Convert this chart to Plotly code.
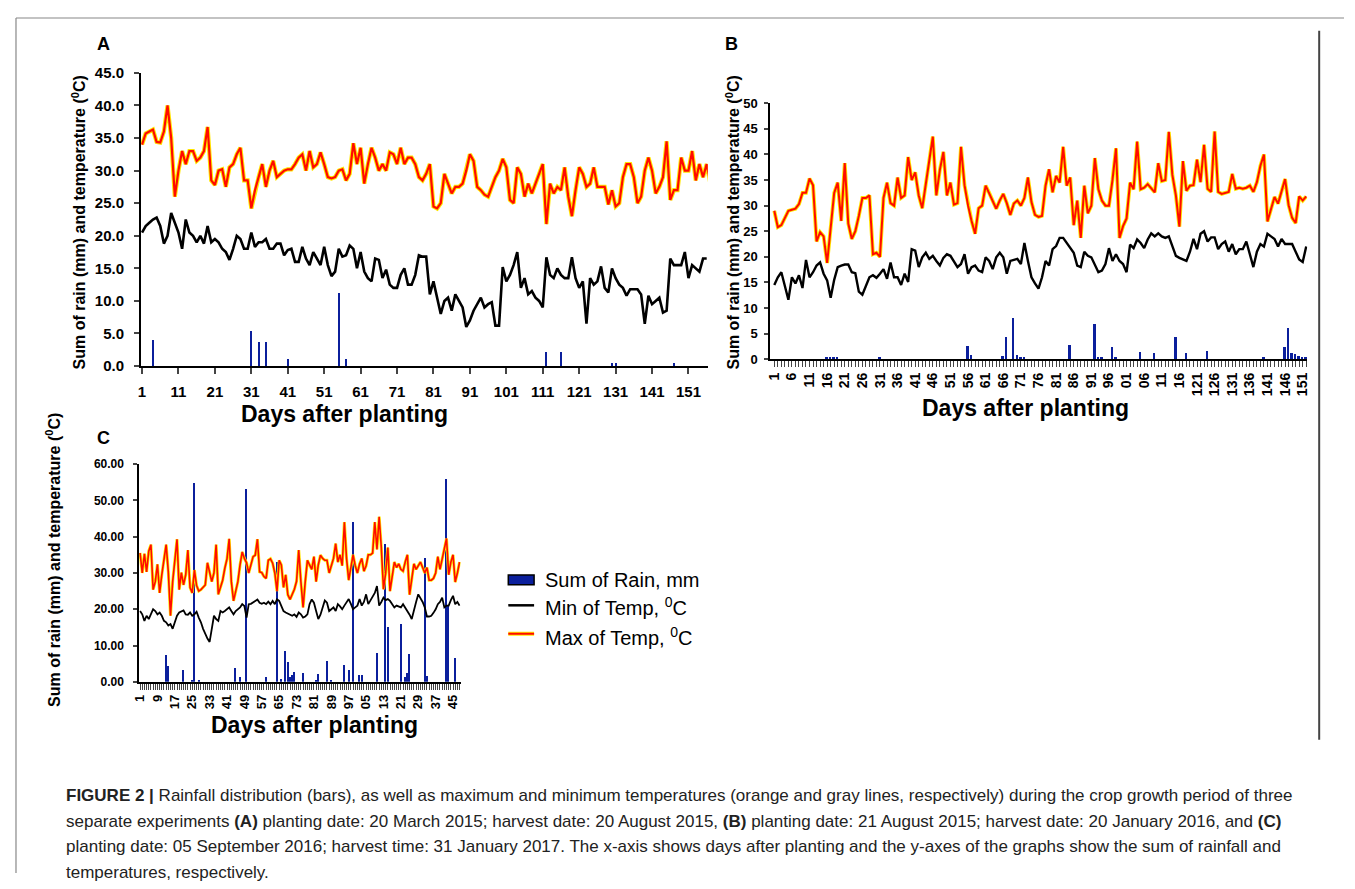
import plotly.graph_objects as go

W, H = 1355, 889
PAGE = 8                     # default body margin of the html page
FW, FH = W - 2 * PAGE, H - 2 * PAGE

# ---------------- data ----------------
# Panel A (planting 20 March 2015)
A_tmax = [34.0, 35.7, 36.0, 36.3, 34.4, 34.3, 36.0, 40.0, 35.0, 26.0, 30.0, 33.0, 31.0, 33.0, 33.0, 31.5,
          32.0, 33.0, 36.7, 28.5, 27.8, 30.0, 30.2, 27.5, 30.5, 31.0, 32.5, 33.5, 28.5, 28.5, 24.2, 27.0,
          29.0, 31.0, 27.5, 30.0, 31.5, 29.0, 29.5, 30.0, 30.2, 30.2, 31.0, 32.0, 32.5, 30.0, 33.0, 30.5,
          31.0, 32.8, 31.0, 29.0, 28.8, 29.0, 30.0, 30.2, 28.5, 29.5, 34.2, 31.0, 33.5, 28.0, 31.0, 33.5,
          32.0, 30.0, 31.0, 30.0, 32.8, 32.5, 31.0, 33.5, 31.0, 32.0, 32.0, 31.0, 29.0, 28.5, 29.5, 31.0,
          24.5, 24.2, 25.0, 29.5, 28.0, 26.5, 27.5, 27.5, 28.0, 30.0, 32.5, 31.5, 27.5, 27.0, 26.3, 26.0,
          27.5, 29.0, 30.0, 31.8, 30.5, 25.5, 25.0, 30.5, 29.5, 26.0, 28.0, 26.5, 28.0, 29.5, 31.0, 21.8,
          28.0, 26.5, 27.5, 27.0, 30.5, 26.0, 23.0, 27.0, 30.5, 29.5, 27.5, 28.0, 30.5, 27.5, 27.5, 27.5,
          24.8, 27.0, 24.5, 25.0, 29.0, 31.0, 31.0, 29.0, 25.0, 26.0, 30.0, 32.0, 30.0, 26.5, 27.5, 29.0,
          34.5, 25.5, 27.0, 27.0, 32.0, 30.0, 30.0, 33.0, 28.5, 31.0, 29.0, 31.0, 28.0]
A_tmin = [20.5, 21.5, 22.0, 22.5, 22.8, 21.5, 18.8, 20.0, 23.5, 22.0, 20.5, 18.0, 22.5, 20.5, 20.0, 19.0,
          20.0, 18.8, 21.5, 19.0, 19.5, 19.0, 18.0, 17.5, 16.3, 18.0, 20.0, 19.5, 18.0, 18.0, 20.5, 18.3,
          19.0, 19.0, 19.5, 18.0, 18.0, 18.8, 18.8, 17.0, 17.8, 18.0, 16.0, 16.0, 18.3, 16.5, 15.5, 17.5,
          16.5, 15.5, 18.3, 15.5, 13.8, 14.5, 18.0, 16.8, 17.0, 18.5, 18.0, 15.0, 17.5, 14.5, 13.5, 13.0,
          16.5, 16.3, 13.5, 14.8, 12.5, 12.0, 12.0, 14.0, 15.0, 12.5, 12.5, 14.0, 17.0, 16.8, 16.8, 11.0,
          13.0, 10.5, 8.0, 10.0, 10.5, 8.5, 11.0, 10.0, 9.0, 6.0, 7.0, 8.5, 9.5, 10.5, 9.0, 9.5,
          9.8, 6.2, 6.2, 15.2, 13.0, 14.0, 15.5, 17.5, 12.0, 13.5, 11.0, 11.5, 10.5, 10.0, 9.0, 16.7,
          14.0, 13.5, 15.0, 14.0, 13.5, 13.5, 16.7, 13.5, 12.0, 13.0, 6.5, 13.5, 12.5, 13.0, 15.3, 12.0,
          11.3, 15.0, 13.5, 12.5, 12.0, 10.8, 11.8, 11.8, 11.8, 11.0, 6.5, 10.8, 9.5, 10.0, 10.5, 8.2,
          8.5, 16.5, 15.5, 15.5, 15.5, 17.5, 13.5, 15.5, 15.0, 14.5, 16.5, 16.5]
A_rain_day = [4, 31, 33, 35, 41, 55, 57, 112, 116, 130, 131, 147]
A_rain_mm = [4.0, 5.4, 3.7, 3.7, 1.1, 11.2, 1.1, 2.2, 2.2, 0.5, 0.5, 0.5]
A_xticks = list(range(1, 152, 10))
A_yticks = [0, 5, 10, 15, 20, 25, 30, 35, 40, 45]

# Panel B (planting 21 August 2015)
B_tmax = [29.0, 25.8, 26.2, 27.5, 29.0, 29.2, 29.4, 30.3, 32.5, 32.5, 35.3, 34.0, 23.0, 24.8, 24.0, 18.8,
          25.5, 32.5, 34.5, 27.0, 38.3, 26.5, 23.5, 25.0, 28.0, 31.5, 31.5, 32.0, 20.5, 20.8, 20.0, 31.5,
          34.5, 30.5, 30.0, 35.5, 31.5, 32.0, 39.5, 35.0, 36.5, 32.0, 29.5, 34.0, 38.5, 43.5, 32.0, 37.0,
          40.5, 32.0, 34.5, 30.2, 30.5, 41.5, 34.0, 30.0, 27.0, 24.5, 29.5,
          30.0, 33.9, 32.5, 31.0, 29.4, 31.0, 32.3, 30.5, 28.2, 30.4, 31.0, 30.0, 31.5, 35.5, 30.7, 28.2,
          27.8, 28.0, 33.9, 37.1, 32.6, 35.8, 34.5, 41.5, 33.9, 35.5, 26.2, 31.0, 23.7, 33.9, 28.5, 30.0,
          39.3, 33.2, 31.0, 30.0, 30.0, 35.0, 41.2, 23.7, 26.0, 27.5, 34.5, 33.2, 42.5, 33.2, 33.5, 34.2,
          33.5, 32.6, 38.3, 34.8, 35.0, 44.4, 36.0, 32.0, 25.9, 38.7, 32.9, 33.9, 34.0, 39.0, 34.6, 41.9,
          33.3, 32.7, 44.5, 32.7, 32.3, 32.5, 32.7, 36.2, 33.3, 33.5, 33.3, 33.5, 33.9, 32.7, 34.6, 37.8,
          40.0, 26.9, 29.5, 31.7, 30.4, 32.7, 35.2, 30.1, 27.6, 26.6, 31.8, 31.0, 31.8]
B_tmin = [14.5, 16.0, 17.0, 14.5, 11.6, 16.0, 14.8, 16.4, 13.9, 19.4, 16.0, 17.0, 18.3, 18.9, 16.7, 15.4,
          12.0, 15.5, 18.0, 18.3, 18.5, 18.5, 17.0, 16.8, 13.2, 12.6, 14.5, 16.0, 16.4, 15.9, 16.7, 17.6,
          15.7, 18.9, 16.0, 16.0, 14.5, 16.7, 15.1, 21.5, 21.2, 18.0, 19.9, 20.8, 19.6, 20.2, 19.2, 18.3,
          19.8, 20.5, 20.2, 19.2, 18.0, 18.6,
          20.5, 16.7, 18.0, 18.3, 17.3, 17.0, 19.9, 19.2, 17.6, 19.9, 20.8, 19.9, 16.7, 19.2, 19.4, 19.6,
          18.6, 22.7, 19.2, 16.0, 14.8, 13.8, 16.0, 19.2, 18.3, 21.5, 22.1, 23.7, 23.7, 22.7, 21.7, 20.8,
          18.3, 18.0, 21.0, 20.2, 19.9, 18.3, 17.0, 17.3, 18.6, 21.7, 19.2, 20.5, 19.2, 18.6, 17.0, 22.4,
          21.7, 23.4, 22.7, 21.7, 23.4, 24.6, 24.0, 24.6, 24.0, 23.7,
          24.0, 22.1, 20.2, 19.8, 19.5, 19.2, 21.0, 23.5, 21.5, 24.5, 25.0, 23.0, 23.8, 23.8, 21.5, 22.5,
          23.0, 21.0, 22.5, 20.5, 21.5, 21.5, 23.0, 20.5, 18.0, 21.0, 22.5, 22.0, 24.5, 24.0, 23.5, 22.0,
          23.5, 22.5, 22.5, 22.5, 21.0, 19.5, 19.0, 22.0]
B_rain_day = [16, 17, 18, 19, 31, 56, 57, 66, 67, 69, 70, 71, 72, 85, 92, 93, 94, 97, 98, 105, 109,
              115, 118, 124, 140, 146, 147, 148, 149, 150, 151, 152]
B_rain_mm = [0.3, 0.3, 0.3, 0.3, 0.2, 2.5, 0.8, 0.5, 4.2, 8.0, 0.8, 0.3, 0.3, 2.8, 6.9, 0.3, 0.3, 2.4,
             0.3, 1.3, 1.1, 4.3, 1.2, 1.6, 0.3, 2.3, 6.1, 1.2, 0.9, 0.5, 0.3, 0.2]
B_days = list(range(1, 153))
B_ticklabels = ["1", "6", "11", "16", "21", "26", "31", "36", "41", "46", "51", "56", "61", "66", "71",
                "76", "81", "86", "91", "96", "01", "06", "11", "16", "121", "126", "131", "136", "141",
                "146", "151"]
B_yticks = [0, 5, 10, 15, 20, 25, 30, 35, 40, 45, 50]

# Panel C (planting 05 September 2016)
C_tmax = [35.5, 30.0, 35.3, 30.3, 36.0, 37.8, 25.4, 27.6, 32.4, 24.5, 29.5, 34.0, 37.8, 30.3, 18.2, 27.6,
          34.4, 39.3, 25.4, 30.1, 26.7, 29.5, 36.3, 26.0, 24.5, 30.8, 26.5, 25.0, 25.4, 26.0, 26.7, 32.8,
          30.3, 27.6, 30.0, 37.8, 24.1, 26.0, 28.0, 31.3, 33.9, 39.4, 27.6, 22.3, 25.0, 27.6, 32.2, 35.8,
          34.0, 32.8, 30.0, 32.0, 34.5, 34.9, 39.3, 30.3, 30.1, 29.0, 28.5, 33.5, 33.9, 32.7, 30.0, 25.0,
          33.5, 32.2, 26.0, 29.5, 24.0, 22.7, 24.0, 25.5, 27.7, 36.3, 27.6, 20.5, 27.6, 33.5, 32.2, 31.0,
          34.5, 27.6, 32.2, 34.9, 34.0, 33.5, 33.5, 30.0, 32.0, 34.0, 38.1, 33.0, 35.0, 32.0, 44.0, 34.0,
          28.0, 31.0, 35.0, 32.0, 30.0, 32.5, 34.0, 30.5, 32.0, 35.0, 35.0, 35.5, 44.0, 36.5, 45.5, 37.0,
          25.5, 30.0, 37.0, 25.0, 29.0, 33.0, 31.5, 32.5, 31.0, 30.5, 33.0, 35.0, 24.0, 28.0, 32.5, 31.0,
          32.0, 33.0, 31.5, 30.0, 31.5, 28.0, 28.0, 28.5, 30.0, 34.5, 31.0, 34.0, 37.0, 39.5, 29.5, 33.0,
          35.0, 27.5, 30.0, 33.0]
C_tmin = [19.5, 18.6, 16.8, 18.2, 17.3, 18.6, 20.0, 19.5, 18.6, 19.1, 18.2, 16.8, 16.4, 15.5, 15.9, 14.6,
          16.4, 18.2, 19.1, 19.5, 19.7, 18.6, 18.5, 19.1, 18.2, 18.6, 19.3, 17.7, 16.4, 14.6, 13.0, 11.9,
          11.0, 15.0, 18.2, 17.3, 16.8, 19.5, 19.1, 19.5, 20.0, 20.5, 19.5, 18.6, 19.5, 20.0, 20.5, 21.4,
          20.9, 17.7, 21.4, 21.5, 21.8, 22.3, 22.7, 21.8, 21.5, 21.8, 21.4, 22.1, 21.4, 22.3, 21.4, 22.7,
          22.3, 20.6, 19.5, 19.1, 18.8, 18.6, 18.2, 18.6, 17.9, 19.1, 18.6, 17.7, 18.0, 18.6, 21.4, 22.7,
          21.8, 19.5, 17.3, 18.5, 20.5, 22.4, 21.8, 19.5, 20.0, 20.5, 19.5, 21.4, 20.8, 20.0, 21.0, 21.9,
          22.8, 21.5, 20.0, 20.5, 21.0, 22.8, 21.0, 22.0, 24.1, 21.4, 22.5, 23.2, 24.5, 26.4, 21.0, 22.0,
          23.2, 22.5, 22.8, 22.3, 21.5, 20.5, 21.0, 20.8, 20.5, 21.4, 20.5, 19.6, 18.5, 17.3, 20.0, 22.0,
          24.1, 23.2, 22.0, 20.5, 18.0, 18.0, 18.2, 19.0, 20.0, 21.4, 22.0, 23.2, 20.5, 21.0, 21.0, 22.5,
          23.7, 21.4, 22.0, 21.0]
C_rain_day = [13, 14, 21, 25, 26, 28, 45, 47, 50, 59, 64, 66, 68, 69, 70, 71, 72, 76, 82, 83, 87, 89,
              95, 97, 99, 102, 103, 110, 114, 115, 121, 123, 124, 125, 132, 133, 142, 143, 146]
C_rain_mm = [7.3, 4.2, 3.1, 0.5, 54.7, 0.6, 3.9, 1.2, 53.0, 1.3, 33.0, 0.8, 8.5, 5.4, 1.3, 1.8, 2.8, 2.5,
             0.5, 2.2, 5.8, 0.4, 4.5, 3.3, 44.0, 1.9, 1.9, 8.0, 38.0, 15.0, 15.8, 1.3, 2.5, 7.5, 34.0, 1.5,
             56.0, 21.0, 6.5]
C_days = list(range(1, 149))
C_ticklabels = ["1", "9", "17", "25", "33", "41", "49", "57", "65", "73", "81", "89", "97", "05", "13",
                "21", "29", "37", "45"]
C_yticks = [0, 10, 20, 30, 40, 50, 60]

legend_labels = ["Sum of Rain, mm", "Min of Temp, <sup>0</sup>C", "Max of Temp, <sup>0</sup>C"]

caption_lines = [
    "<b>FIGURE 2 |</b> Rainfall distribution (bars), as well as maximum and minimum temperatures (orange and gray lines, respectively) during the crop growth period of three",
    "separate experiments <b>(A)</b> planting date: 20 March 2015; harvest date: 20 August 2015, <b>(B)</b> planting date: 21 August 2015; harvest date: 20 January 2016, and <b>(C)</b>",
    "planting date: 05 September 2016; harvest time: 31 January 2017. The x-axis shows days after planting and the y-axes of the graphs show the sum of rainfall and",
    "temperatures, respectively.",
]

# ---------------- styling ----------------
NAVY = "#0b1f9c"
RED = "#ff0a00"
YEL = "#ffe600"
FONT = "Liberation Sans, Arial, sans-serif"


def fx(x):
    return (x - PAGE) / FW


def fy(y):
    return 1 - (y - PAGE) / FH


fig = go.Figure()


def add_panel(n, tmax, tmin, rday, rmm, barw, halo, core, minw):
    xa = "x" if n == 1 else "x%d" % n
    ya = "y" if n == 1 else "y%d" % n
    fig.add_trace(go.Scatter(x=list(range(1, len(tmin) + 1)), y=tmin, mode="lines",
                             line=dict(color="black", width=minw), xaxis=xa, yaxis=ya,
                             showlegend=False, hoverinfo="skip"))
    dmax = list(range(1, len(tmax) + 1))
    fig.add_trace(go.Scatter(x=dmax, y=tmax, mode="lines", line=dict(color=YEL, width=halo),
                             xaxis=xa, yaxis=ya, showlegend=False, hoverinfo="skip"))
    fig.add_trace(go.Scatter(x=dmax, y=tmax, mode="lines", line=dict(color=RED, width=core),
                             xaxis=xa, yaxis=ya, showlegend=False, hoverinfo="skip"))
    fig.add_trace(go.Bar(x=rday, y=rmm, width=barw, marker=dict(color=NAVY, line=dict(width=0)),
                         xaxis=xa, yaxis=ya, showlegend=False, hoverinfo="skip"))


add_panel(1, A_tmax, A_tmin, A_rain_day, A_rain_mm, 0.55, 4.2, 2.2, 2.6)
add_panel(2, B_tmax, B_tmin, B_rain_day, B_rain_mm, 0.55, 3.8, 2.0, 2.4)
add_panel(3, C_tmax, C_tmin, C_rain_day, C_rain_mm, 0.6, 3.0, 1.6, 1.8)

common_axis = dict(showgrid=False, zeroline=False, showline=True, linecolor="black", mirror=False)

fig.update_layout(
    width=FW, height=FH, margin=dict(l=0, r=0, t=0, b=0),
    paper_bgcolor="white", plot_bgcolor="rgba(0,0,0,0)", bargap=0, barmode="overlay",
    showlegend=False,
    xaxis=dict(domain=[fx(135), fx(706)], range=[0.73, 156.3], anchor="y",
               tickmode="array", tickvals=A_xticks, ticktext=[str(v) for v in A_xticks],
               ticks="outside", ticklen=6, tickwidth=2, linewidth=2, ticklabelstandoff=5,
               tickfont=dict(family=FONT, size=15, color="black", weight="bold"), **common_axis),
    yaxis=dict(domain=[fy(364), fy(65)], range=[0, 45], anchor="x",
               tickmode="array", tickvals=A_yticks, ticktext=["%.1f" % v for v in A_yticks],
               ticks="outside", ticklen=5, tickwidth=2, linewidth=2, ticklabelstandoff=7,
               tickfont=dict(family=FONT, size=15, color="black", weight="bold"), **common_axis),
    xaxis2=dict(domain=[fx(769), fx(1310)], range=[-0.13, 152.3], anchor="y2",
                tickmode="array", tickvals=B_days,
                ticktext=[B_ticklabels[(d - 1) // 5] if (d - 1) % 5 == 0 else "" for d in B_days],
                tickangle=-90, ticks="outside", ticklen=6, tickwidth=1, linewidth=2,
                tickfont=dict(family=FONT, size=14, color="black", weight="bold"), **common_axis),
    yaxis2=dict(domain=[fy(357), fy(96)], range=[0, 50], anchor="x2",
                tickmode="array", tickvals=B_yticks, ticktext=[str(v) for v in B_yticks],
                ticks="outside", ticklen=4, tickwidth=2, linewidth=2, ticklabelstandoff=4,
                tickfont=dict(family=FONT, size=13, color="black", weight="bold"), **common_axis),
    xaxis3=dict(domain=[fx(133), fx(457)], range=[0.54, 148.5], anchor="y3",
                tickmode="array", tickvals=C_days,
                ticktext=[C_ticklabels[(d - 1) // 8] if (d - 1) % 8 == 0 else "" for d in C_days],
                tickangle=-90, ticks="outside", ticklen=6, tickwidth=1, linewidth=1.5,
                tickfont=dict(family=FONT, size=13, color="black", weight="bold"), **common_axis),
    yaxis3=dict(domain=[fy(686), fy(464)], range=[0, 60], anchor="x3",
                tickmode="array", tickvals=C_yticks, ticktext=["%.2f" % v for v in C_yticks],
                ticks="outside", ticklen=4, tickwidth=1.5, linewidth=1.5, ticklabelstandoff=7,
                tickfont=dict(family=FONT, size=12, color="black", weight="bold"), **common_axis),
)

ann = []


def text(x, y, s, size, bold=False, angle=0, xanchor="center", color="black"):
    ann.append(dict(x=fx(x), y=fy(y), xref="paper", yref="paper", text=s, showarrow=False,
                    textangle=angle, xanchor=xanchor, yanchor="middle",
                    font=dict(family=FONT, size=size, color=color, weight="bold" if bold else "normal")))


# panel letters
text(97, 36, "A", 18, True)
text(730, 36, "B", 18, True)
text(97, 437, "C", 18, True)

ytitle = "Sum of rain (mm) and temperature (<sup>0</sup>C)"
text(72, 218, ytitle, 16, True, -90)
text(731, 218, ytitle, 16, True, -90)
text(47, 562, ytitle, 16, True, -90)

text(340, 413, "Days after planting", 23, True)
text(1026, 407, "Days after planting", 23, True)
text(310, 730, "Days after planting", 23, True)

# legend
leg_y = [582, 609, 640]
for lab, yy in zip(legend_labels, leg_y):
    text(540, yy, lab, 20, False, 0, "left")

# caption
for i, line in enumerate(caption_lines):
    text(57, 802 + i * 26, line, 17, False, 0, "left", "#222222")

fig.update_layout(annotations=ann)

shapes = [
    dict(type="line", xref="paper", yref="paper", x0=fx(9), x1=1, y0=fy(9), y1=fy(9),
         line=dict(color="#888888", width=1.2)),
    dict(type="line", xref="paper", yref="paper", x0=fx(9), x1=fx(9), y0=fy(9), y1=0,
         line=dict(color="#888888", width=1.2)),
    dict(type="line", xref="paper", yref="paper", x0=fx(1322), x1=fx(1322), y0=fy(22), y1=fy(745),
         line=dict(color="#444444", width=2)),
    # legend symbols
    dict(type="rect", xref="paper", yref="paper", x0=fx(505), x1=fx(531), y0=fy(587), y1=fy(577),
         fillcolor=NAVY, line=dict(color="black", width=1.5)),
    dict(type="line", xref="paper", yref="paper", x0=fx(505), x1=fx(531), y0=fy(608), y1=fy(608),
         line=dict(color="black", width=2.5)),
    dict(type="line", xref="paper", yref="paper", x0=fx(505), x1=fx(531), y0=fy(637), y1=fy(637),
         line=dict(color=YEL, width=4)),
    dict(type="line", xref="paper", yref="paper", x0=fx(505), x1=fx(531), y0=fy(637), y1=fy(637),
         line=dict(color=RED, width=2)),
]
fig.update_layout(shapes=shapes)

fig.write_html("out.html")
